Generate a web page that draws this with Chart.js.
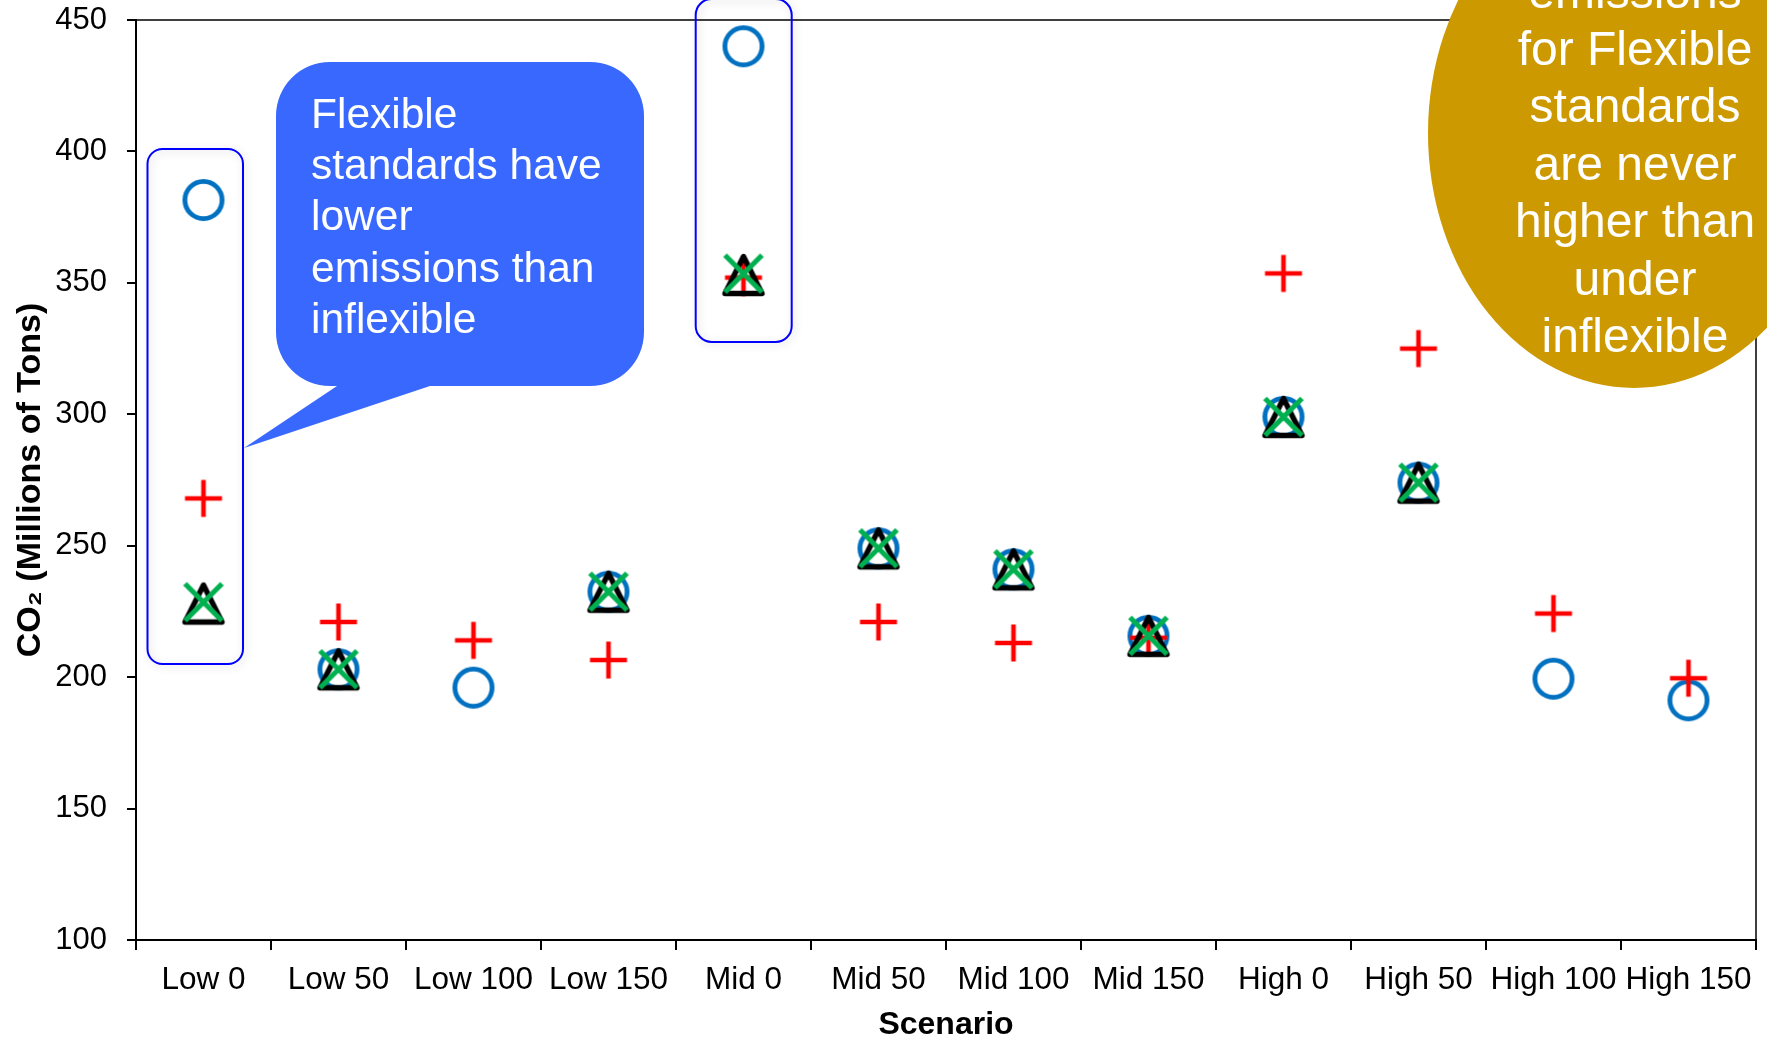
<!DOCTYPE html>
<html>
<head>
<meta charset="utf-8">
<script src="https://cdn.jsdelivr.net/npm/chart.js@4/dist/chart.umd.min.js"></script>
<style>
  html, body { margin: 0; padding: 0; background: #ffffff; }
  #wrap { width: 1767px; height: 1045px; position: relative; }
</style>
</head>
<body>
<div id="wrap"><canvas id="chart" width="1767" height="1045"></canvas></div>
<script>
// Scenario categories and CO2 emissions (millions of tons) per marker series
const scenarios = ['Low 0', 'Low 50', 'Low 100', 'Low 150', 'Mid 0', 'Mid 50',
                   'Mid 100', 'Mid 150', 'High 0', 'High 50', 'High 100', 'High 150'];
const circleValues   = [381.5, 203, 196, 232.5, 440, 249, 241, 215.7, 299, 274, 199.4, 191.2];
const plusValues     = [268, 221, 214, 206.5, 352, 221, 213, 215, 353.6, 325, 224.2, 199.6];
const triangleValues = [228, 203, null, 232.5, 353, 249, 241, 215.7, 299, 274, null, null];
const crossValues    = [228.5, 203, null, 232.5, 353.5, 249, 241, 215.7, 299, 274, null, null];

// Value axis range and tick step
const yMin = 100;
const yMax = 450;
const yStep = 50;

// Callout texts
const bubbleLines  = ['Flexible', 'standards have', 'lower', 'emissions than', 'inflexible'];
const ellipseLines = ['emissions', 'for Flexible', 'standards', 'are never', 'higher than', 'under', 'inflexible'];

const FONT = "'Liberation Sans', Arial, Helvetica, sans-serif";

// ---- marker images -------------------------------------------------------
function markerCanvas(draw) {
  const c = document.createElement('canvas');
  c.width = 48; c.height = 48;
  const g = c.getContext('2d');
  draw(g, 24, 24);
  return c;
}
const circleMarker = markerCanvas((g, cx, cy) => {
  g.strokeStyle = '#0070C0'; g.lineWidth = 4.8;
  g.beginPath(); g.arc(cx, cy, 18.6, 0, Math.PI * 2); g.stroke();
});
const plusMarker = markerCanvas((g, cx, cy) => {
  g.strokeStyle = '#FF0000'; g.lineWidth = 4.6; g.lineCap = 'butt';
  g.beginPath();
  g.moveTo(cx - 18.5, cy); g.lineTo(cx + 18.5, cy);
  g.moveTo(cx, cy - 18.5); g.lineTo(cx, cy + 18.5);
  g.stroke();
});
const triangleMarker = markerCanvas((g, cx, cy) => {
  g.strokeStyle = '#000000'; g.lineWidth = 5.4; g.lineJoin = 'round';
  g.beginPath();
  g.moveTo(cx, cy - 18.5);
  g.lineTo(cx + 18.5, cy + 18.5);
  g.lineTo(cx - 18.5, cy + 18.5);
  g.closePath(); g.stroke();
});
const crossMarker = markerCanvas((g, cx, cy) => {
  g.strokeStyle = '#00B050'; g.lineWidth = 5.2; g.lineCap = 'butt';
  g.beginPath();
  g.moveTo(cx - 18.5, cy - 18.5); g.lineTo(cx + 18.5, cy + 18.5);
  g.moveTo(cx + 18.5, cy - 18.5); g.lineTo(cx - 18.5, cy + 18.5);
  g.stroke();
});

// ---- drawing helpers ----------------------------------------------------
function roundRectPath(ctx, x, y, w, h, r) {
  ctx.beginPath();
  ctx.moveTo(x + r, y);
  ctx.lineTo(x + w - r, y);
  ctx.arcTo(x + w, y, x + w, y + r, r);
  ctx.lineTo(x + w, y + h - r);
  ctx.arcTo(x + w, y + h, x + w - r, y + h, r);
  ctx.lineTo(x + r, y + h);
  ctx.arcTo(x, y + h, x, y + h - r, r);
  ctx.lineTo(x, y + r);
  ctx.arcTo(x, y, x + r, y, r);
  ctx.closePath();
}

function highlightBox(ctx, x, y, w, h, r) {
  ctx.save();
  ctx.shadowColor = 'rgba(0,0,0,0.18)';
  ctx.shadowBlur = 8;
  ctx.shadowOffsetX = 2;
  ctx.shadowOffsetY = 2;
  roundRectPath(ctx, x, y, w, h, r);
  ctx.strokeStyle = '#0000FF';
  ctx.lineWidth = 2;
  ctx.stroke();
  ctx.restore();
}

const decorations = {
  id: 'decorations',
  beforeDatasetsDraw(chart) {
    const { ctx, chartArea: a } = chart;
    ctx.save();
    // top and right edges of the plot frame
    ctx.strokeStyle = '#000000';
    ctx.lineWidth = 1.5;
    ctx.beginPath();
    ctx.moveTo(a.left, a.top);
    ctx.lineTo(a.right, a.top);
    ctx.lineTo(a.right, a.bottom);
    ctx.stroke();
    ctx.restore();
    // boxes around the Low 0 and Mid 0 columns
    highlightBox(ctx, 147.5, 149, 95.5, 515, 15);
    highlightBox(ctx, 695.7, -1, 96, 343, 16);
  },
  afterDraw(chart) {
    const { ctx } = chart;
    ctx.save();
    // speech bubble
    const bx = 276, by = 62, bw = 368, bh = 324, br = 54;
    ctx.beginPath();
    ctx.moveTo(bx + br, by);
    ctx.lineTo(bx + bw - br, by);
    ctx.arcTo(bx + bw, by, bx + bw, by + br, br);
    ctx.lineTo(bx + bw, by + bh - br);
    ctx.arcTo(bx + bw, by + bh, bx + bw - br, by + bh, br);
    ctx.lineTo(430, by + bh);
    ctx.lineTo(244, 448);
    ctx.lineTo(337, by + bh);
    ctx.lineTo(bx + br, by + bh);
    ctx.arcTo(bx, by + bh, bx, by + bh - br, br);
    ctx.lineTo(bx, by + br);
    ctx.arcTo(bx, by, bx + br, by, br);
    ctx.closePath();
    ctx.fillStyle = '#3968FF';
    ctx.fill();

    ctx.fillStyle = '#FFFFFF';
    ctx.font = '42.5px ' + FONT;
    ctx.textAlign = 'left';
    ctx.textBaseline = 'alphabetic';
    bubbleLines.forEach((t, i) => ctx.fillText(t, 311, 127.5 + i * 51.4));

    // gold ellipse
    ctx.beginPath();
    ctx.ellipse(1634, 133, 206, 255, 0, 0, Math.PI * 2);
    ctx.fillStyle = '#CC9900';
    ctx.fill();

    ctx.fillStyle = '#FFFFFF';
    ctx.font = '48px ' + FONT;
    ctx.textAlign = 'center';
    ellipseLines.forEach((t, i) => ctx.fillText(t, 1635, 7.6 + i * 57.4));
    ctx.restore();
  }
};

function pointSet(label, data, marker, order) {
  return {
    label, data, order,
    showLine: false,
    pointStyle: marker,
    pointRadius: 20,
    pointHoverRadius: 20,
    clip: false
  };
}

new Chart(document.getElementById('chart'), {
  type: 'line',
  data: {
    labels: scenarios,
    datasets: [
      pointSet('Circle series', circleValues, circleMarker, 3),
      pointSet('Plus series', plusValues, plusMarker, 2),
      pointSet('Triangle series', triangleValues, triangleMarker, 1),
      pointSet('Cross series', crossValues, crossMarker, 0)
    ]
  },
  options: {
    responsive: false,
    animation: false,
    events: [],
    layout: { autoPadding: false, padding: { top: 20, right: 11, left: 0, bottom: 0 } },
    plugins: { legend: { display: false }, tooltip: { enabled: false } },
    scales: {
      x: {
        type: 'category',
        offset: true,
        grid: { offset: true, drawOnChartArea: false, drawTicks: true, tickLength: 10, color: '#000', lineWidth: 2 },
        border: { display: true, color: '#000', width: 2 },
        ticks: { color: '#000', font: { family: FONT, size: 31.5 }, padding: 11.5, maxRotation: 0, autoSkip: false },
        title: { display: true, text: 'Scenario', color: '#000', font: { family: FONT, size: 32, weight: 'bold' }, padding: { top: 0.5, bottom: 0.5 } },
        afterFit(scale) {
          scale.height = 105;
          scale.paddingLeft = 0;
          scale.paddingRight = 0;
        }
      },
      y: {
        min: yMin, max: yMax,
        grid: { drawOnChartArea: false, drawTicks: true, tickLength: 9, color: '#000', lineWidth: 2 },
        border: { display: true, color: '#000', width: 2 },
        ticks: { stepSize: yStep, color: '#000', font: { family: FONT, size: 31 }, padding: 20 },
        title: { display: true, text: 'CO\u2082 (Millions of Tons)', color: '#000', font: { family: FONT, size: 34, weight: 'bold' }, padding: { top: 10.5, bottom: 10.5 } },
        afterFit(scale) {
          scale.width = 136;
          scale.paddingTop = 0;
          scale.paddingBottom = 0;
        }
      }
    }
  },
  plugins: [decorations]
});
</script>
</body>
</html>
